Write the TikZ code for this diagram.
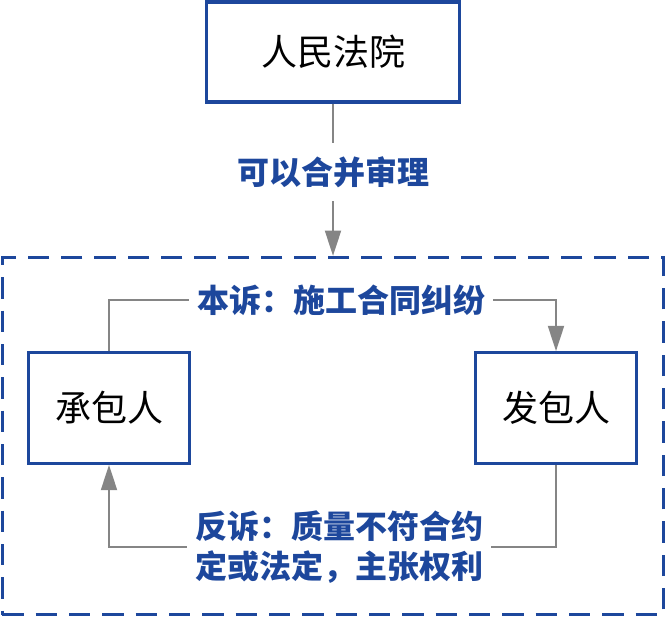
\documentclass[tikz,border=0pt]{standalone}
\usepackage{fontspec}
\setmainfont{Noto Sans CJK SC}
\usetikzlibrary{arrows.meta}
\definecolor{dblue}{HTML}{1D479C}
\definecolor{lgray}{HTML}{858585}
\begin{document}
\begin{tikzpicture}[x=0.75pt,y=-0.75pt,
  box/.style={draw=dblue,line width=2.3pt,fill=white,inner sep=0pt,
    font=\fontsize{27}{30}\selectfont,text=black},
  grp/.style={draw=dblue,line width=2.2pt,dash pattern=on 16pt off 9pt,
    minimum width=496pt,minimum height=268pt,inner sep=0pt},
  lab/.style={font=\fontsize{24}{30}\selectfont\bfseries,text=dblue,fill=white},
  conn/.style={draw=lgray,line width=1.5pt},
  arr/.style={conn,-{Triangle[width=12pt,length=19pt]}}]
\useasboundingbox (0,0) rectangle (667,618);
\node[grp] (group) at (333,436) {};
\node[box,minimum width=190pt,minimum height=75pt] (court) at (333,52) {人民法院};
\node[box,minimum width=121pt,minimum height=83pt] (cb) at (109,408) {承包人};
\node[box,minimum width=121pt,minimum height=83pt] (fb) at (556,408) {发包人};
\node[lab,inner xsep=2pt,inner ysep=10pt] (hebing) at (333,172) {可以合并审理};
\node[lab,inner xsep=6pt,inner ysep=2pt] (benso) at (341,300) {本诉：施工合同纠纷};
\node[lab,inner xsep=6pt,inner ysep=2pt,align=left] (fanso) at (339,547) {反诉：质量不符合约\\定或法定，主张权利};
\draw[conn] (court.south) -- (hebing.north);
\draw[arr] (hebing.south) -- (group.north);
\draw[conn] (cb.north) |- (benso.west);
\draw[arr] (benso.east) -| (fb.north);
\draw[conn] (fb.south) |- (fanso.east);
\draw[arr] (fanso.west) -| (cb.south);
\end{tikzpicture}
\end{document}
